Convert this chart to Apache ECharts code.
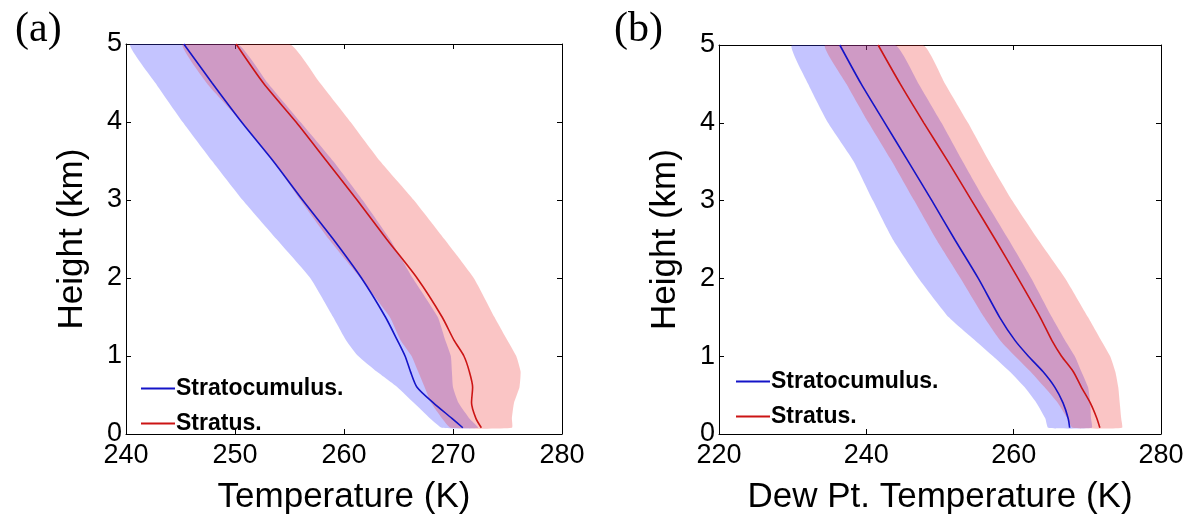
<!DOCTYPE html>
<html>
<head>
<meta charset="utf-8">
<script src="https://cdn.jsdelivr.net/npm/echarts@6/dist/echarts.min.js"></script>
<style>
html,body{margin:0;padding:0;background:#fff;}
#chart{width:1187px;height:520px;}
</style>
</head>
<body>
<div id="chart"></div>
<script>
// Heights (km) shared by all profiles
const heights = [5.0, 4.5, 4.0, 3.5, 3.0, 2.5, 2.0, 1.5, 1.2, 1.0, 0.8, 0.6, 0.4, 0.2, 0.08];

// Panel (a): Temperature (K)
const scMeanA = [245.3, 247.9, 250.6, 253.5, 256.2, 259.0, 261.6, 263.8, 264.9, 265.6, 266.1, 266.7, 268.2, 269.9, 270.9];
const scLoA   = [240.4, 242.7, 245.2, 247.9, 250.7, 253.8, 256.9, 259.0, 260.2, 261.3, 263.0, 264.9, 266.4, 267.9, 269.0];
const scHiA   = [250.2, 253.0, 256.0, 259.0, 261.7, 264.2, 266.3, 268.6, 269.3, 269.8, 269.9, 270.0, 270.5, 271.5, 272.3];
const stMeanA = [250.1, 252.6, 255.6, 258.4, 261.2, 263.9, 266.7, 269.0, 270.1, 271.0, 271.5, 271.8, 271.7, 272.1, 272.6];
const stLoA   = [245.2, 247.4, 250.6, 253.5, 256.0, 258.6, 261.5, 264.2, 265.2, 266.2, 266.8, 267.4, 268.0, 269.0, 269.8];
const stHiA   = [255.0, 257.8, 260.6, 263.3, 266.4, 269.2, 271.9, 273.8, 275.0, 275.8, 276.2, 276.1, 275.6, 275.4, 275.4];

// Panel (b): Dew point temperature (K)
const scMeanB = [236.4, 239.3, 242.5, 245.7, 248.9, 252.0, 255.2, 258.1, 260.2, 262.0, 264.0, 265.6, 266.7, 267.4, 267.6];
const scLoB   = [229.9, 232.1, 234.8, 238.3, 240.9, 243.6, 247.1, 251.2, 254.8, 257.2, 259.5, 261.5, 263.1, 264.3, 264.7];
const scHiB   = [243.9, 247.1, 250.2, 253.1, 256.1, 259.3, 262.4, 265.2, 267.0, 268.3, 269.2, 270.1, 270.4, 270.5, 270.6];
const stMeanB = [241.6, 244.6, 247.8, 251.1, 254.3, 257.5, 260.6, 263.6, 265.2, 266.5, 268.1, 269.2, 270.4, 271.3, 271.7];
const stLoB   = [234.4, 237.3, 240.3, 243.5, 246.5, 249.5, 252.8, 256.0, 258.2, 260.2, 262.3, 264.2, 266.0, 267.3, 268.0];
const stHiB   = [247.7, 250.7, 253.8, 256.7, 259.8, 263.3, 267.0, 270.1, 271.9, 273.1, 273.8, 274.2, 274.4, 274.6, 274.7];

const seriesNames = ['Stratocumulus.', 'Stratus.'];
const xNames = ['Temperature (K)', 'Dew Pt. Temperature (K)'];
const yName = 'Height (km)';
const panelLabels = ['(a)', '(b)'];

const FONT = '"Liberation Sans", Arial, Helvetica, sans-serif';
const BLUE = '#1414c8';
const RED = '#cc1414';
const BLUE_FILL = 'rgba(60,60,255,0.30)';
const RED_FILL = 'rgba(235,40,40,0.27)';

function pts(xs) { return xs.map((x, i) => [x, heights[i]]); }
function bandData(lo, hi) { return lo.map((l, i) => [l, hi[i], heights[i]]); }

function bandSeries(name, lo, hi, idx, color) {
  return {
    type: 'custom', name: name, xAxisIndex: idx, yAxisIndex: idx, silent: true, z: 1,
    clip: true,
    data: bandData(lo, hi),
    encode: { x: [0, 1], y: 2 },
    renderItem: function (params, api) {
      if (params.dataIndex !== 0) return null;
      const poly = [];
      for (let i = 0; i < lo.length; i++) poly.push(api.coord([lo[i], heights[i]]));
      for (let i = hi.length - 1; i >= 0; i--) poly.push(api.coord([hi[i], heights[i]]));
      return { type: 'polygon', shape: { points: poly, smooth: 0.15 }, style: { fill: color, stroke: null } };
    }
  };
}
function lineSeries(name, xs, idx, color) {
  return {
    type: 'line', name: name, xAxisIndex: idx, yAxisIndex: idx, z: 3,
    data: pts(xs), showSymbol: false, symbol: 'none', smooth: 0.25,
    lineStyle: { color: color, width: 1.6 }, itemStyle: { color: color }
  };
}

const grids = [
  { left: 126, top: 44, width: 436, height: 394 },
  { left: 719, top: 45, width: 442, height: 393 }
];
const xRanges = [[240, 280, 10], [220, 280, 20]];

const xAxes = [], yAxes = [];
[0, 1].forEach(g => {
  const r = xRanges[g];
  xAxes.push({
    type: 'value', gridIndex: g, min: r[0], max: r[1], interval: r[2], position: 'bottom',
    name: xNames[g], nameLocation: 'middle', nameGap: 46,
    nameTextStyle: { fontSize: 35, color: '#000', fontFamily: FONT },
    axisLine: { show: true, onZero: false, lineStyle: { color: '#000', width: 1 } },
    axisTick: { show: true, inside: true, length: 5, lineStyle: { color: '#000' } },
    axisLabel: { fontSize: 27, color: '#000', fontFamily: FONT, margin: 8 },
    splitLine: { show: false }
  });
  xAxes.push({
    type: 'value', gridIndex: g, min: r[0], max: r[1], interval: r[2], position: 'top',
    axisLine: { show: true, onZero: false, lineStyle: { color: '#000', width: 1 } },
    axisTick: { show: true, inside: true, length: 5, lineStyle: { color: '#000' } },
    axisLabel: { show: false }, splitLine: { show: false }
  });
  yAxes.push({
    type: 'value', gridIndex: g, min: 0, max: 5, interval: 1, position: 'left',
    name: yName, nameLocation: 'middle', nameGap: 36,
    nameTextStyle: { fontSize: 35, color: '#000', fontFamily: FONT },
    axisLine: { show: true, onZero: false, lineStyle: { color: '#000', width: 1 } },
    axisTick: { show: true, inside: true, length: 5, lineStyle: { color: '#000' } },
    axisLabel: { fontSize: 27, color: '#000', fontFamily: FONT, margin: 4 },
    splitLine: { show: false }
  });
  yAxes.push({
    type: 'value', gridIndex: g, min: 0, max: 5, interval: 1, position: 'right',
    axisLine: { show: true, onZero: false, lineStyle: { color: '#000', width: 1 } },
    axisTick: { show: true, inside: true, length: 5, lineStyle: { color: '#000' } },
    axisLabel: { show: false }, splitLine: { show: false }
  });
});
// axis index: grid g -> x axis 2g (bottom), y axis 2g (left)
const series = [
  bandSeries('Sc band a', scLoA, scHiA, 0, BLUE_FILL),
  bandSeries('St band a', stLoA, stHiA, 0, RED_FILL),
  lineSeries(seriesNames[0], scMeanA, 0, BLUE),
  lineSeries(seriesNames[1], stMeanA, 0, RED),
  bandSeries('Sc band b', scLoB, scHiB, 2, BLUE_FILL),
  bandSeries('St band b', stLoB, stHiB, 2, RED_FILL),
  lineSeries(seriesNames[0], scMeanB, 2, BLUE),
  lineSeries(seriesNames[1], stMeanB, 2, RED)
];

const legendBase = {
  data: seriesNames, orient: 'vertical', icon: 'rect', itemWidth: 34, itemHeight: 2,
  itemGap: 12, selectedMode: false,
  textStyle: { fontSize: 23, fontWeight: 'bold', color: '#000', fontFamily: FONT, padding: [0, 0, 0, -4] }
};

const option = {
  backgroundColor: '#fff',
  animation: false,
  title: [
    { text: panelLabels[0], left: 10, top: 4, textStyle: { fontFamily: '"Liberation Serif", "Times New Roman", serif', fontSize: 42, fontWeight: 'normal', color: '#000' } },
    { text: panelLabels[1], left: 609, top: 4, textStyle: { fontFamily: '"Liberation Serif", "Times New Roman", serif', fontSize: 42, fontWeight: 'normal', color: '#000' } }
  ],
  legend: [
    Object.assign({}, legendBase, { left: 136, top: 372 }),
    Object.assign({}, legendBase, { left: 731, top: 365 })
  ],
  grid: grids,
  xAxis: xAxes,
  yAxis: yAxes,
  series: series
};

const chart = echarts.init(document.getElementById('chart'), null, { renderer: 'canvas' });
chart.setOption(option);
</script>
</body>
</html>
